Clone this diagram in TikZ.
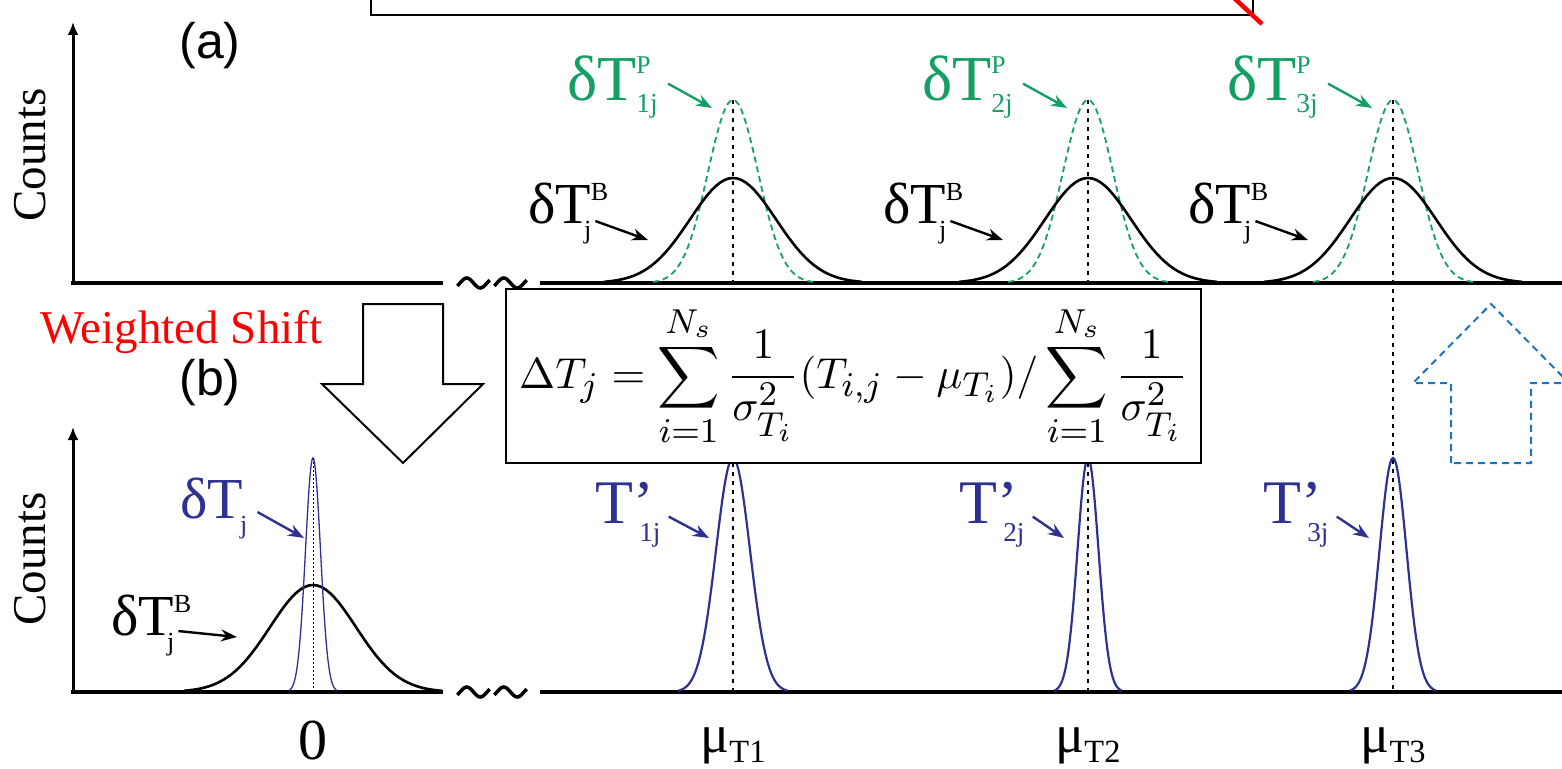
\documentclass[tikz,border=0pt]{standalone}
\usepackage[no-math]{fontspec}
\setmainfont{Liberation Serif}
\newfontfamily\tnr{Liberation Serif}
\newfontfamily\panelfont{Liberation Sans}
\usepackage{graphicx}
\usetikzlibrary{arrows.meta}
\DeclareMathSizes{10}{10}{8}{6}
\definecolor{Green}{HTML}{14A064}
\definecolor{Navy}{HTML}{2E3192}
\definecolor{Sky}{HTML}{1C75BC}
% large text is set at 20pt and scaled up
\newcommand\scr[1]{\fontsize{#1}{#1}\selectfont}
\newcommand\bigtxt[2]{\scalebox{#1}{\tnr\scr{20}#2}}
\newcommand\dlab[3]{#1\makebox[0pt][l]{\raisebox{0.39em}{\scr{9}#2}}\kern-0.12em\raisebox{-0.26em}{\scr{9}#3}}

\begin{document}
\begin{tikzpicture}[x=1pt,y=-1pt,>={Stealth[length=16pt,width=12pt]},
    axis/.style={line width=3pt,-{Latex[length=13pt,width=11pt]}},
    axline/.style={line width=4.5pt},
    bell/.style={line width=2.6pt},
    midline/.style={line width=2.4pt,dash pattern=on 4pt off 5pt},
    lbl/.style={inner sep=0pt,anchor=base west},
    ptr/.style={->,line width=2.4pt},
    txt/.style={inner sep=0pt}]
  \useasboundingbox (0,0) rectangle (1562,768);
  % clipped box at the top
  \draw[line width=2.5pt] (371,-40) -- (371,15) -- (1253,15) -- (1253,-40);
  \draw[red,line width=4.5pt] (1233,-3) -- (1262,24);
  % panel (a)
  \node[txt] (pa) at (210,46) {\scalebox{2.5}{\panelfont\scr{20}(a)}};
  \node[txt,rotate=90] (ca) at (30,155) {\bigtxt{2.35}{Counts}};
  \draw[axis] (73,285) -- (73,22);
  \draw[axline] (71,283) -- (443,283);
  \draw[axline] (540,283) -- (1562,283);
  \foreach \k in {0,1}
    \draw[line width=3.5pt] plot[domain=-0.1:1.1,samples=25,smooth] ({460+37*\k+27*\x},{283-5*sin(360*\x)});
  \foreach \c in {733,1088,1393}{
    \draw[Green,line width=1.8pt,dash pattern=on 6pt off 4pt] plot[domain=-3.2:3.2,samples=61] ({\c+25*\x},{283-183*exp(-0.5*\x*\x)});
    \draw[bell] plot[domain=-3:3,samples=61] ({\c+43*\x},{283-105*exp(-0.5*\x*\x)});
  }
  \draw[midline] (733,100) -- (733,283);
  \draw[midline] (1088,100) -- (1088,283);
  \draw[midline] (1393,100) -- (1393,692);
  \foreach \c/\n in {733/1,1088/2,1393/3}{
    \node[lbl,text=Green] (gl\n) at (\c-166,100)
      {\bigtxt{3.2}{δT\makebox[0pt][l]{\raisebox{0.41em}{\scr{8}P}}\raisebox{-0.19em}{\scr{8.6}\n j}}};
    \coordinate (gt\n) at (\c-21,108);
    \draw[ptr,Green] ([shift={(10,-3)}]gl\n.east) -- (gt\n);
    \node[lbl] (bl\n) at (\c-205,223) {\bigtxt{2.9}{\dlab{δT}{B}{j}}};
    \coordinate (bt\n) at (\c-85,240);
    \draw[ptr] ([shift={(4,8)}]bl\n.east) -- (bt\n);
  }
  % panel (b)
  \node[txt,text=red,anchor=base west] (ws) at (40,343) {\bigtxt{2.35}{Weighted Shift}};
  \node[txt] (pb) at (210,383) {\scalebox{2.5}{\panelfont\scr{20}(b)}};
  \node[txt,rotate=90] (cb) at (30,559) {\bigtxt{2.35}{Counts}};
  \draw[axis] (73,694) -- (73,427);
  \draw[axline] (71,692) -- (443,692);
  \draw[axline] (540,692) -- (1562,692);
  \foreach \k in {0,1}
    \draw[line width=3.5pt] plot[domain=-0.1:1.1,samples=25,smooth] ({460+37*\k+27*\x},{692-5*sin(360*\x)});
  \draw[bell] plot[domain=-3:3,samples=61] ({313+43*\x},{692-107*exp(-0.5*\x*\x)});
  \draw[Navy,line width=1.3pt] plot[domain=-3.2:3.2,samples=61] ({313+7.5*\x},{692-234*exp(-0.5*\x*\x)});
  \draw[line width=1pt,dash pattern=on 2pt off 2pt] (313,458) -- (313,692);
  \foreach \c/\s in {733/17,1088/10.5,1393/13.5}
    \draw[Navy,line width=2.2pt] plot[domain=-3.2:3.2,samples=61] ({\c+\s*\x},{692-234*exp(-0.5*\x*\x)});
  \draw[midline] (733,463) -- (733,692);
  \draw[midline] (1088,463) -- (1088,692);
  \node[lbl,text=Navy] (dl) at (180,518) {\bigtxt{2.9}{δT\kern-0.05em\raisebox{-0.26em}{\scr{9}j}}};
  \coordinate (dt) at (304,538);
  \draw[ptr,Navy] ([shift={(10,4)}]dl.east) -- (dt);
  \node[lbl] (dbl) at (111,635) {\bigtxt{2.9}{\dlab{δT}{B}{j}}};
  \coordinate (dbt) at (237,637);
  \draw[ptr] ([shift={(4,6)}]dbl.east) -- (dbt);
  \foreach \c/\n/\d in {733/1/138,1088/2/129,1393/3/130}{
    \node[lbl,text=Navy] (tl\n) at (\c-\d,523) {\bigtxt{3.1}{T\makebox[0pt][l]{’}\kern0.1em\raisebox{-0.3em}{\scr{8.8}\n j}}};
    \coordinate (tt\n) at (\c-24,538);
    \draw[ptr,Navy] ([shift={(8,2)}]tl\n.east) -- (tt\n);
    \node[inner sep=0pt,anchor=base] (mu\n) at (\c,752) {\bigtxt{2.7}{μ\raisebox{-0.2em}{\scr{12}T\n}}};
  }
  \node[txt] (zero) at (313,740) {\bigtxt{2.9}{0}};
  % formula and shift arrows
  \node[draw,line width=2.2pt,fill=white,inner sep=0pt,minimum width=695pt,minimum height=174pt] (eq) at (853.5,376)
    {\scalebox{4.33}{$\displaystyle \Delta T_j=\sum_{i=1}^{N_s}\frac{1}{\sigma_{T_i}^2}(T_{i,j}-\mu_{T_i})/\sum_{i=1}^{N_s}\frac{1}{\sigma_{T_i}^2}$}};
  \draw[line width=2pt,fill=white] (363,304) -- (443,304) -- (443,384) -- (483,384) -- (403,463) -- (322,384) -- (363,384) -- cycle;
  \draw[Sky,line width=2pt,dash pattern=on 7pt off 5pt] (1451,463) -- (1451,383) -- (1413,383) -- (1491,304) -- (1569,383) -- (1531,383) -- (1531,463) -- cycle;
\end{tikzpicture}
\end{document}
